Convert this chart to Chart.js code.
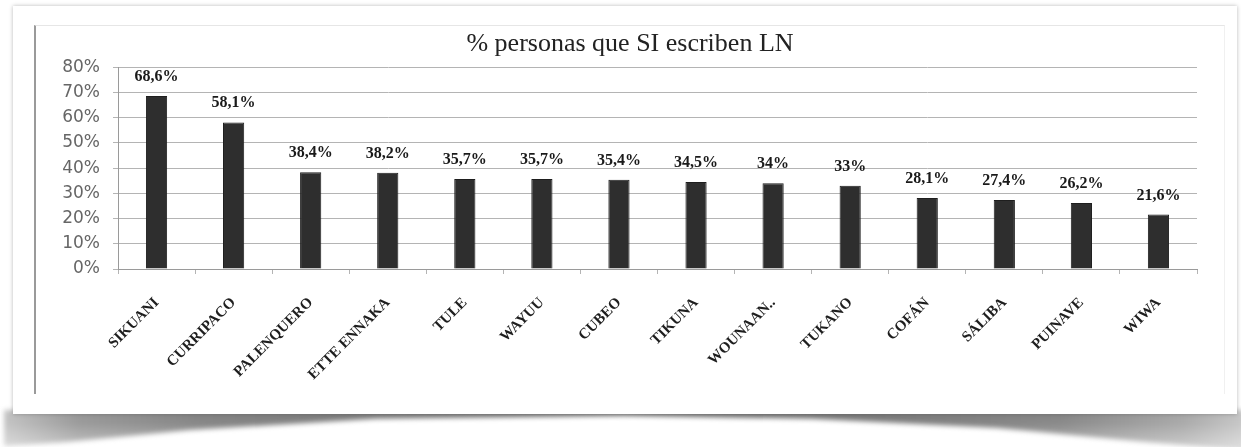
<!DOCTYPE html>
<html>
<head>
<meta charset="utf-8">
<script src="https://cdn.jsdelivr.net/npm/chart.js@4/dist/chart.umd.min.js"></script>
<style>
  html, body { margin: 0; padding: 0; background: #ffffff; }
  #stage { position: relative; width: 1241px; height: 447px; overflow: hidden; background: #ffffff; }
  #curlBlur { position: absolute; left: 4px; top: 410px; width: 1241px; height: 40px; filter: blur(2.5px); }
  #curl {
    position: absolute; left: 0; top: 0; width: 100%; height: 100%;
    background:
      linear-gradient(to bottom, rgba(255,255,255,0) 0%, rgba(255,255,255,0) 30%, rgba(255,255,255,0.45) 100%),
      linear-gradient(to right, #c4c4c4 0%, #9a9a9a 6%, #858585 16%, #7a7a7a 35%, #6c6c6c 50%, #7a7a7a 68%, #888888 85%, #a9a9a9 95%, #c8c8c8 100%);
    clip-path: polygon(0 0, 100% 0, 100% 100%, 92% 80%, 80% 45%, 65% 22%, 50% 14%, 30% 22%, 15% 50%, 5% 80%, 0 90%);
  }
  #card {
    position: absolute; left: 13px; top: 6px; width: 1224px; height: 408px;
    background: #ffffff; box-shadow: 0 0 4px rgba(0,0,0,0.28);
  }
  #frame {
    position: absolute; left: 34px; top: 25px; width: 1188px; height: 368px;
    border-left: 2px solid #9a9a9a; border-top: 1px solid #e6e6e6; border-right: 1px solid #f0f0f0;
  }
  #wrap { position: absolute; left: 0; top: 0; width: 1241px; height: 447px; }
</style>
</head>
<body>
<div id="stage">
  <div id="curlBlur"><div id="curl"></div></div>
  <div id="card"></div>
  <div id="frame"></div>
  <div id="wrap"><canvas id="chart" width="1241" height="447"></canvas></div>
</div>
<script>
// Share of people who write their native language, per people
const categories = ['SIKUANI', 'CURRIPACO', 'PALENQUERO', 'ETTE ENNAKA', 'TULE', 'WAYUU', 'CUBEO',
                    'TIKUNA', 'WOUNAAN..', 'TUKANO', 'COFÁN', 'SÁLIBA', 'PUINAVE', 'WIWA'];
const values = [68.6, 58.1, 38.4, 38.2, 35.7, 35.7, 35.4, 34.5, 34, 33, 28.1, 27.4, 26.2, 21.6];
const valueLabels = ['68,6%', '58,1%', '38,4%', '38,2%', '35,7%', '35,7%', '35,4%', '34,5%', '34%', '33%',
                     '28,1%', '27,4%', '26,2%', '21,6%'];
const yTicks = [0, 10, 20, 30, 40, 50, 60, 70, 80];
const titleText = '% personas que SI escriben LN';

// Writes each bar's value just above it
const barValuePlugin = {
  id: 'barValues',
  afterDatasetsDraw(chart) {
    const ctx = chart.ctx;
    const meta = chart.getDatasetMeta(0);
    ctx.save();
    ctx.font = 'bold 16px "Liberation Serif", "Times New Roman", serif';
    ctx.fillStyle = '#1a1a1a';
    ctx.textAlign = 'center';
    ctx.textBaseline = 'alphabetic';
    meta.data.forEach((bar, i) => {
      ctx.fillText(valueLabels[i], bar.x, bar.y - 15);
    });
    ctx.restore();
  }
};

const gridGray = '#b4b4b4';

new Chart(document.getElementById('chart'), {
  type: 'bar',
  data: {
    labels: categories,
    datasets: [{
      data: values,
      backgroundColor: '#2e2e2e',
      borderColor: '#1e1e1e',
      borderWidth: 1,
      barPercentage: 0.55,
      categoryPercentage: 0.5
    }]
  },
  plugins: [barValuePlugin],
  options: {
    responsive: false,
    animation: false,
    devicePixelRatio: 1,
    layout: { padding: { left: 63, right: 44, top: 0, bottom: 0 } },
    plugins: {
      legend: { display: false },
      tooltip: { enabled: false },
      title: {
        display: true,
        text: titleText,
        color: '#222222',
        font: { family: '"Liberation Serif", "Times New Roman", serif', size: 26, weight: 'normal' },
        padding: { top: 29, bottom: 7 }
      }
    },
    scales: {
      y: {
        min: 0,
        max: 80,
        afterFit(scale) { scale.width = 55; },
        afterBuildTicks(scale) { scale.ticks = yTicks.map(v => ({ value: v })); },
        ticks: {
          callback: v => v + '%',
          color: '#666666',
          padding: 13,
          font: { family: '"DejaVu Sans", Verdana, sans-serif', size: 17 }
        },
        grid: { color: gridGray, lineWidth: 1, tickLength: 5 },
        border: { color: '#9a9a9a', width: 1 }
      },
      x: {
        afterFit(scale) { scale.height = 178; },
        ticks: {
          autoSkip: false,
          maxRotation: 45,
          minRotation: 45,
          color: '#1e1e1e',
          padding: 20,
          font: { family: '"Liberation Serif", "Times New Roman", serif', size: 15, weight: 'bold' }
        },
        grid: { drawOnChartArea: false, color: gridGray, tickLength: 5, offset: true },
        border: { color: '#9a9a9a', width: 1 }
      }
    }
  }
});
</script>
</body>
</html>
